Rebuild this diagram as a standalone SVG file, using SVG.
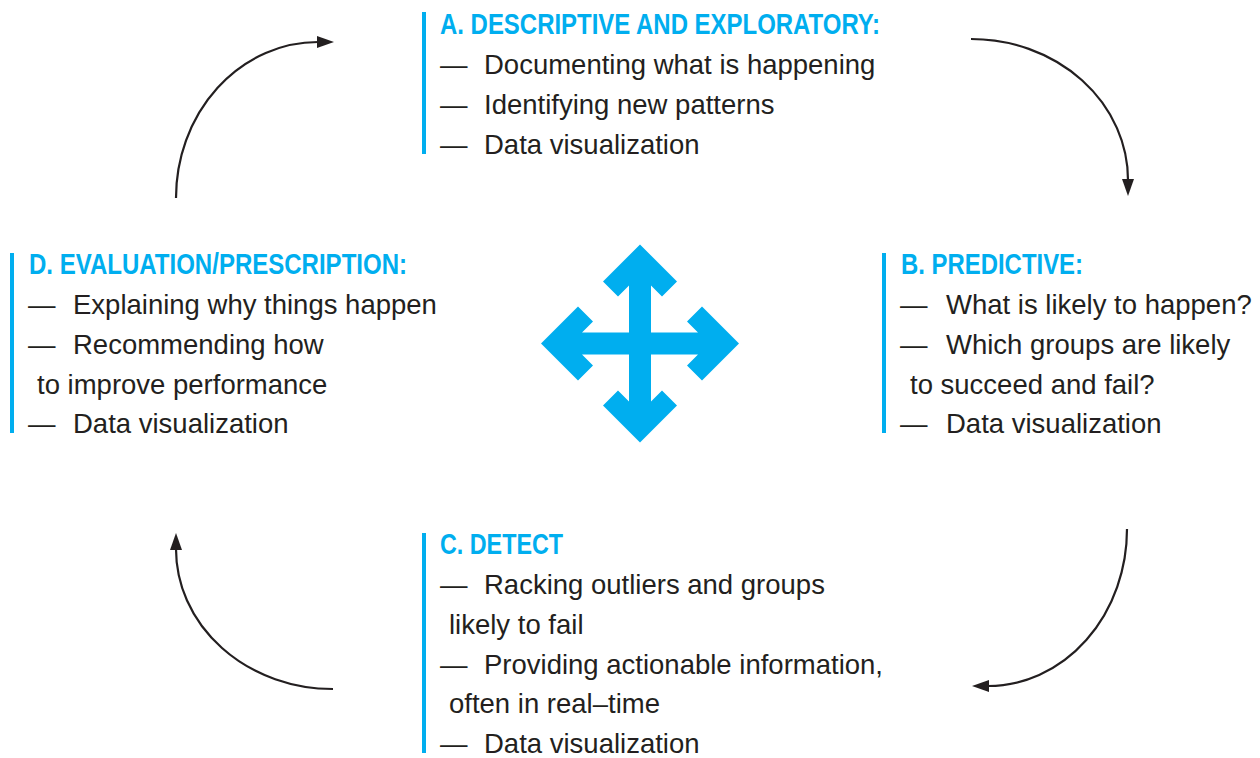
<svg xmlns="http://www.w3.org/2000/svg" width="1260" height="758" viewBox="0 0 1260 758">
<style>
.bar{fill:#00AEEF}
.ttl{font-family:"Liberation Sans Narrow","Liberation Sans",Arial,sans-serif;font-weight:bold;font-size:29px;fill:#00AEEF}
.txt{font-family:"Liberation Sans",Arial,sans-serif;font-size:27.5px;fill:#231F20}
.arc{fill:none;stroke:#231F20;stroke-width:2.2}
</style>
<defs>
<marker id="ah" viewBox="0 0 17 12" refX="1" refY="6" markerWidth="17" markerHeight="12" markerUnits="userSpaceOnUse" orient="auto">
<path d="M0,0 L17,6 L0,12 Z" fill="#231F20"/>
</marker>
</defs>
<rect width="1260" height="758" fill="#ffffff"/>

<g id="nodeA">
<rect class="bar" x="422" y="12" width="4" height="142"/>
<text class="ttl" x="440" y="34" textLength="440" lengthAdjust="spacingAndGlyphs">A. DESCRIPTIVE AND EXPLORATORY:</text>
<text class="txt" x="440" y="74">—<tspan x="484">Documenting what is happening</tspan></text>
<text class="txt" x="440" y="114">—<tspan x="484">Identifying new patterns</tspan></text>
<text class="txt" x="440" y="154">—<tspan x="484">Data visualization</tspan></text>
</g>

<g id="nodeB">
<rect class="bar" x="882" y="253" width="4" height="180"/>
<text class="ttl" x="901" y="274" textLength="182" lengthAdjust="spacingAndGlyphs">B. PREDICTIVE:</text>
<text class="txt" x="900" y="314">—<tspan x="946">What is likely to happen?</tspan></text>
<text class="txt" x="900" y="354">—<tspan x="946">Which groups are likely</tspan></text>
<text class="txt" x="910" y="394">to succeed and fail?</text>
<text class="txt" x="900" y="433">—<tspan x="946">Data visualization</tspan></text>
</g>

<g id="nodeC">
<rect class="bar" x="422" y="533" width="4" height="220"/>
<text class="ttl" x="440" y="554" textLength="123" lengthAdjust="spacingAndGlyphs">C. DETECT</text>
<text class="txt" x="440" y="594">—<tspan x="484">Racking outliers and groups</tspan></text>
<text class="txt" x="449" y="634">likely to fail</text>
<text class="txt" x="440" y="674">—<tspan x="484">Providing actionable information,</tspan></text>
<text class="txt" x="449" y="713">often in real–time</text>
<text class="txt" x="440" y="753">—<tspan x="484">Data visualization</tspan></text>
</g>

<g id="nodeD">
<rect class="bar" x="10" y="253" width="4" height="180"/>
<text class="ttl" x="29" y="274" textLength="378" lengthAdjust="spacingAndGlyphs">D. EVALUATION/PRESCRIPTION:</text>
<text class="txt" x="28" y="314">—<tspan x="73">Explaining why things happen</tspan></text>
<text class="txt" x="28" y="354">—<tspan x="73">Recommending how</tspan></text>
<text class="txt" x="37" y="394">to improve performance</text>
<text class="txt" x="28" y="433">—<tspan x="73">Data visualization</tspan></text>
</g>

<g id="center-arrows">
<polygon fill="#00AEEF" transform="translate(640,343.5)" points="0,-99 37,-62 22,-47 11,-58 11,-11 58,-11 47,-22 62,-37 99,0 62,37 47,22 58,11 11,11 11,58 22,47 37,62 0,99 -37,62 -22,47 -11,58 -11,11 -58,11 -47,22 -62,37 -99,0 -62,-37 -47,-22 -58,-11 -11,-11 -11,-58 -22,-47 -37,-62"/>
</g>

<g id="connectors">
<path class="arc" d="M176,198 A142,156 0 0 1 318,42" marker-end="url(#ah)"/>
<path class="arc" d="M971,39 A157,141 0 0 1 1128,180" marker-end="url(#ah)"/>
<path class="arc" d="M1127,529 A139,157 0 0 1 988,686" marker-end="url(#ah)"/>
<path class="arc" d="M333,689 A157,140 0 0 1 176,549" marker-end="url(#ah)"/>
</g>
</svg>
